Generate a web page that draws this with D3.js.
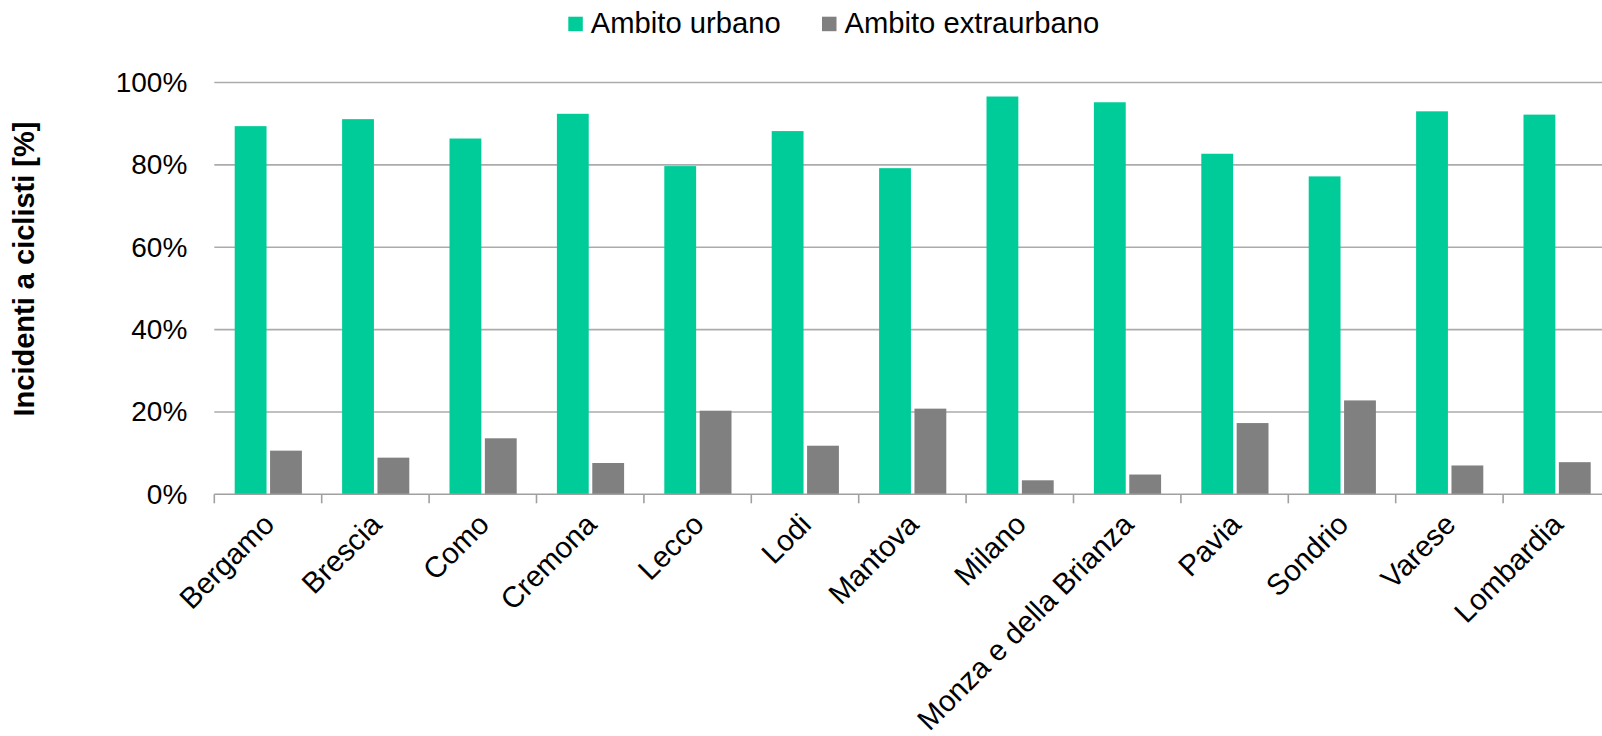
<!DOCTYPE html>
<html>
<head>
<meta charset="utf-8">
<script src="https://cdn.jsdelivr.net/npm/d3@7"></script>
<style>
  html, body { margin: 0; padding: 0; background: #fff; }
  svg { display: block; }
  text { font-family: "Liberation Sans", Arial, sans-serif; fill: #000; }
</style>
</head>
<body>
<svg id="chart" width="1602" height="736"></svg>
<script>
const categories = ["Bergamo", "Brescia", "Como", "Cremona", "Lecco", "Lodi", "Mantova", "Milano", "Monza e della Brianza", "Pavia", "Sondrio", "Varese", "Lombardia"];
const urbano = [89.4, 91.1, 86.4, 92.4, 79.7, 88.2, 79.2, 96.6, 95.2, 82.7, 77.2, 93.0, 92.2];
const extraurbano = [10.6, 8.9, 13.6, 7.6, 20.3, 11.8, 20.8, 3.4, 4.8, 17.3, 22.8, 7.0, 7.8];
const seriesNames = ["Ambito urbano", "Ambito extraurbano"];
const seriesColors = ["#00CC99", "#808080"];
const yTicks = [0, 20, 40, 60, 80, 100];
const yTitle = "Incidenti a ciclisti [%]";

const svg = d3.select("#chart");

const x0 = 214.3, step = 107.4;
const x = d3.scaleBand().domain(categories).range([x0, x0 + step * categories.length]).paddingInner(0).paddingOuter(0);
const xs = d3.scaleBand().domain(seriesNames).range([20.4, 87.6]).paddingInner(0.1).paddingOuter(0);
const y = d3.scaleLinear().domain([0, 100]).range([494.3, 82.5]);

// gridlines
svg.append("g")
  .selectAll("line")
  .data(yTicks.filter(d => d > 0))
  .join("line")
  .attr("x1", x0).attr("x2", 1602)
  .attr("y1", d => y(d)).attr("y2", d => y(d))
  .attr("stroke", "#ABABAB").attr("stroke-width", 1.6);

// y tick labels
const yAxis = d3.axisLeft(y).tickValues(yTicks).tickFormat(d => d + "%").tickSize(0).tickPadding(27);
const gy = svg.append("g").attr("transform", `translate(${x0},0)`).call(yAxis);
gy.select(".domain").remove();
gy.selectAll("text").attr("font-size", 28).attr("font-family", "Liberation Sans, Arial, sans-serif").attr("fill", "#000");

// bars
const data = categories.map((c, i) => ({c, vals: [urbano[i], extraurbano[i]]}));
const groups = svg.append("g").selectAll("g").data(data).join("g")
  .attr("transform", d => `translate(${x(d.c)},0)`);
groups.selectAll("rect")
  .data(d => d.vals.map((v, j) => ({s: seriesNames[j], v, j})))
  .join("rect")
  .attr("x", d => xs(d.s))
  .attr("width", xs.bandwidth())
  .attr("y", d => y(d.v))
  .attr("height", d => y(0) - y(d.v))
  .attr("fill", d => seriesColors[d.j]);

// x axis
const xAxis = d3.axisBottom(x).tickSize(0).tickFormat("");
const gx = svg.append("g").attr("transform", `translate(0,${y(0)})`).call(xAxis);
gx.select(".domain").remove();
svg.append("line").attr("x1", x0).attr("x2", 1602).attr("y1", y(0)).attr("y2", y(0))
  .attr("stroke", "#A0A0A0").attr("stroke-width", 1.6);
// tick marks at category boundaries
const boundaries = categories.map(c => x(c)).concat([x0 + step * categories.length]);
svg.append("g").selectAll("line").data(boundaries).join("line")
  .attr("x1", d => d).attr("x2", d => d)
  .attr("y1", y(0)).attr("y2", y(0) + 9)
  .attr("stroke", "#A0A0A0").attr("stroke-width", 1.6);

// category labels
svg.append("g").selectAll("text").data(categories).join("text")
  .attr("transform", d => `translate(${x(d) + x.bandwidth() / 2 + 8},${y(0) + 32}) rotate(-45)`)
  .attr("text-anchor", "end")
  .attr("font-size", 29.4)
  .text(d => d);

// y title
svg.append("text")
  .attr("transform", `translate(34,269) rotate(-90)`)
  .attr("text-anchor", "middle")
  .attr("font-size", 29)
  .attr("font-weight", "bold")
  .text(yTitle);

// legend
const legendItems = [{x: 568.3, name: seriesNames[0], color: seriesColors[0]}, {x: 822, name: seriesNames[1], color: seriesColors[1]}];
const lg = svg.append("g").selectAll("g").data(legendItems).join("g");
lg.append("rect").attr("x", d => d.x).attr("y", 16.7).attr("width", 14.5).attr("height", 14.5).attr("fill", d => d.color);
lg.append("text").attr("x", d => d.x + 22.5).attr("y", 33.3).attr("font-size", 29.2).text(d => d.name);
</script>
</body>
</html>
